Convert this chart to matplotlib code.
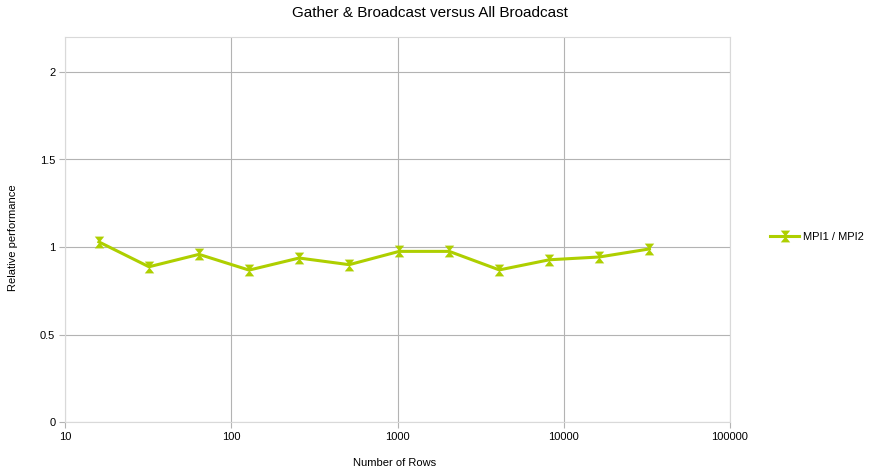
import matplotlib.pyplot as plt
from matplotlib.path import Path
from matplotlib.ticker import FixedLocator, NullLocator

plt.rcParams['font.family'] = ['Liberation Sans', 'DejaVu Sans']

rows = [16, 32, 64, 128, 256, 512, 1024, 2048, 4096, 8192, 16384, 32768]
ratio = [1.029, 0.887, 0.958, 0.868, 0.937, 0.899, 0.975, 0.975, 0.869, 0.927, 0.943, 0.989]

y_ticks = [0, 0.5, 1, 1.5, 2]
y_labels = ["0", "0.5", "1", "1.5", "2"]
x_ticks = [10, 100, 1000, 10000, 100000]
x_labels = ["10", "100", "1000", "10000", "100000"]

green = "#aecf00"
grid = "#b3b3b3"

# hourglass symbol like the office chart
hourglass = Path([(-0.8, -1), (0.8, -1), (-0.8, 1), (0.8, 1), (-0.8, -1)],
                 [Path.MOVETO, Path.LINETO, Path.LINETO, Path.LINETO, Path.CLOSEPOLY])

fig = plt.figure(figsize=(8.71, 4.69), dpi=100)
ax = fig.add_axes([65 / 871, 1 - 422 / 469, (730 - 65) / 871, (422 - 37) / 469])

ax.plot(rows, ratio, color=green, lw=2.2, marker=hourglass, markersize=8.5,
        markeredgewidth=0, label="MPI1 / MPI2", zorder=3)

ax.set_xscale("log")
ax.set_xlim(10, 100000)
ax.set_ylim(0, 2.2)
ax.xaxis.set_major_locator(FixedLocator(x_ticks))
ax.xaxis.set_minor_locator(NullLocator())
ax.set_xticks(x_ticks)
ax.set_xticklabels(x_labels)
ax.set_yticks(y_ticks)
ax.set_yticklabels(y_labels)
ax.grid(True, color=grid, lw=0.8)
ax.set_axisbelow(True)
for s in ax.spines.values():
    s.set_color("#d9d9d9")
ax.tick_params(length=4, width=0.8, color=grid, labelsize=8, pad=3)

fig.text(430 / 871, 1 - 13 / 469, "Gather & Broadcast versus All Broadcast",
         fontsize=11, ha="center", va="center")
fig.text(395 / 871, 1 - 463 / 469, "Number of Rows", fontsize=8, ha="center", va="center")
fig.text(13 / 871, 1 - 238 / 469, "Relative performance", fontsize=8, rotation=90,
         ha="center", va="center")

fig.legend(loc="center left", bbox_to_anchor=(766 / 871, 1 - 237 / 469), frameon=False,
           fontsize=8, handlelength=2.6, handletextpad=0.3, borderaxespad=0)

fig.savefig("out.png", dpi=100)
